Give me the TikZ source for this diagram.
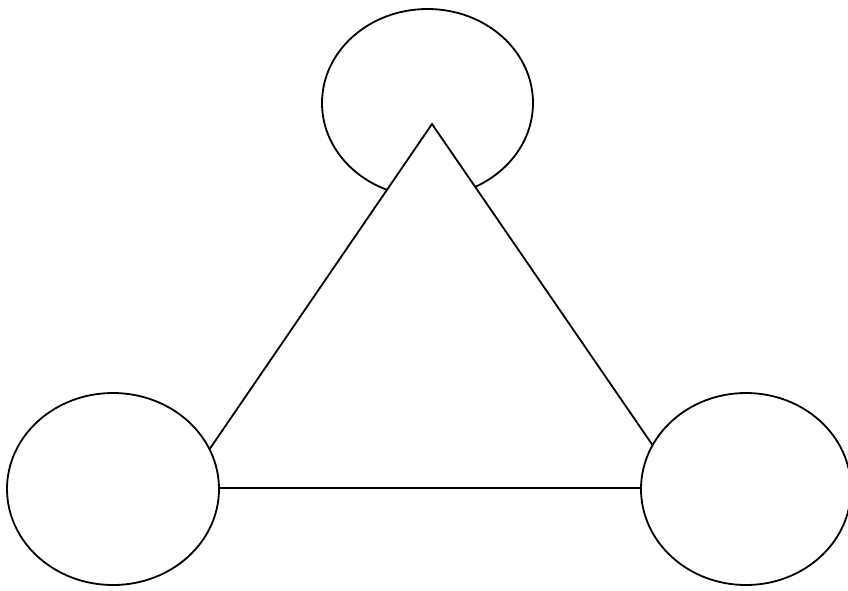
\documentclass[tikz,border=0pt]{standalone}
\usetikzlibrary{shapes.geometric}
\begin{document}
\begin{tikzpicture}[x=1pt,y=-1pt,
  oval/.style={ellipse,draw=black,fill=white,line width=1.8pt,inner sep=0pt},
  tri/.style={draw=black,fill=white,line width=1.8pt,line join=miter}]
\useasboundingbox[fill=white] (0,0) rectangle (848,590);
\node[oval,minimum width=211pt,minimum height=188pt] (top) at (427.5,103) {};
\coordinate (apex) at (432,124);
\coordinate (bl) at (183,488);
\coordinate (br) at (682,488);
\filldraw[tri] (apex) -- (bl) -- (br) -- cycle;
\node[oval,minimum width=212pt,minimum height=192pt] (left) at (113,489) {};
\node[oval,minimum width=210pt,minimum height=192pt] (right) at (746,489) {};
\end{tikzpicture}
\end{document}
